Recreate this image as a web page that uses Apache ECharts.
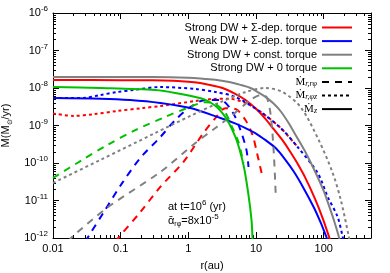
<!DOCTYPE html>
<html><head><meta charset="utf-8">
<script src="https://cdn.jsdelivr.net/npm/echarts@6/dist/echarts.min.js"></script>
<style>html,body{margin:0;padding:0;background:#fff}#c{width:390px;height:273px}</style>
</head><body><div id="c"></div>
<script>
// ---- data (r in au, Mdot in Msun/yr) ----
const xTickLabels = ['0.01', '0.1', '1', '10', '100'];
const groupNames = ['Strong DW + Σ-dep. torque', 'Weak DW + Σ-dep. torque', 'Strong DW + const. torque', 'Strong DW + 0 torque'];
const styleNames = ['Ṁr,rφ', 'Ṁr,φz', 'Ṁz'];

// Strong DW + Sigma-dep torque (red)
const redZ = [[0.01,1.63e-8],[0.1,1.62e-8],[0.3,1.6e-8],[0.6,1.55e-8],[1,1.47e-8],[1.5,1.35e-8],[2,1.22e-8],[3.2,1.0e-8],[5,6.9e-9],[7,4.8e-9],[10,2.8e-9],[13.8,1.5e-9],[18,8.2e-10],[24.7,4.0e-10],[32,2.0e-10],[40,1.04e-10],[54,3.9e-11],[75,1.07e-11],[97,3.3e-12],[120,1.07e-12],[132,6e-13]];
const redRphi = [[0.085,8e-13],[0.0918,1e-12],[0.195,4.9e-12],[0.385,2.3e-11],[0.843,1.06e-10],[1.67,6.3e-10],[2.51,1.58e-9],[3.53,2.9e-9],[4.97,2.75e-9],[6.98,1.4e-9],[8.87,5.6e-10],[10.5,1.63e-10],[12.1,5.4e-11]];
const redRphiz = [[0.01,2.1e-9],[0.02,1.8e-9],[0.04,2.0e-9],[0.0888,2.44e-9],[0.215,2.93e-9],[0.385,3.3e-9],[1.27,4.5e-9],[2.27,5.1e-9],[3.92,5.2e-9],[6.98,4.0e-9],[11.7,2.3e-9],[23.1,8.6e-10],[41.2,2.67e-10]];
// Weak DW + Sigma-dep torque (blue)
const blueZ = [[0.01,5.4e-9],[0.05,5.2e-9],[0.138,4.8e-9],[0.385,4.0e-9],[1.07,2.93e-9],[2.98,1.58e-9],[5,1.12e-9],[7,8.5e-10],[10,6.1e-10],[14,4.0e-10],[19.5,2.5e-10],[26,1.35e-10],[35.9,6e-11],[50,2.2e-11],[71,6.7e-12],[90,2.6e-12],[111,1e-12],[120,7e-13]];
const blueRphi = [[0.03,8e-13],[0.033,1.06e-12],[0.0589,5.6e-12],[0.105,2.9e-11],[0.195,1.36e-10],[0.385,4.9e-10],[0.642,1.4e-9],[1.07,3.1e-9],[1.79,4.8e-9],[2.98,4.8e-9],[4.49,2.3e-9],[5.89,7.6e-10],[7.23,2.2e-10],[7.74,7.8e-11]];
const blueRphiz = [[0.01,5.4e-9],[0.0278,5.4e-9],[0.0497,6.5e-9],[0.0888,7.8e-9],[0.153,8.85e-9],[0.385,1.06e-8],[1.27,9.4e-9],[2.51,7.8e-9],[4.97,5.75e-9],[11.7,2.29e-9],[23.1,8.6e-10],[41.2,2.67e-10],[81.5,5.4e-11],[115,1.24e-11],[161,3.6e-12],[191,1.06e-12],[200,7e-13]];
// Strong DW + const torque (gray)
const grayZ = [[0.01,1.96e-8],[0.3,1.95e-8],[1,1.88e-8],[1.5,1.8e-8],[2.5,1.65e-8],[4.2,1.42e-8],[6,1.2e-8],[8.3,1.0e-8],[11,7.5e-9],[13.8,5.8e-9],[18,3.9e-9],[23.1,2.4e-9],[30,1.2e-9],[39.8,5e-10],[55,1.8e-10],[76,5.5e-11],[100,1.8e-11],[119,7.5e-12],[145,2.6e-12],[167,1.1e-12],[180,6e-13]];
const grayRphi = [[0.017,8e-13],[0.0191,1.06e-12],[0.0653,6.7e-12],[0.385,5.75e-11],[1.27,3.4e-10],[2.51,8.6e-10],[4.49,1.9e-9],[8.29,4.8e-9],[11.7,6.5e-9],[14.3,5.75e-9],[16.4,2.0e-9],[18.2,2.2e-10],[19.5,1.58e-11]];
const grayRphiz = [[0.01,2.93e-11],[0.0497,1.2e-10],[0.324,6.3e-10],[1.07,1.8e-9],[2.98,4.2e-9],[6.98,7.8e-9],[13.8,1.0e-8],[24.7,7.8e-9],[45.6,3.1e-9],[84.3,4.1e-10],[136,5.4e-11],[179,1.03e-11],[234,1.13e-12],[245,7e-13]];
// Strong DW + 0 torque (green)
const greenZ = [[0.01,1.06e-8],[0.05,1.0e-8],[0.324,8.85e-9],[0.642,7.36e-9],[1.79,4.8e-9],[3.19,2.15e-9],[4.97,4.9e-10],[6.53,8.8e-11],[7.74,1.4e-11],[8.58,3e-12],[8.87,1e-12],[8.95,7e-13]];
const greenRphi = [[0.01,4e-11],[0.0269,1.2e-10],[0.063,3.0e-10],[0.164,7.5e-10],[0.456,1.7e-9],[1.0,3.0e-9],[1.79,4.2e-9],[2.51,3.7e-9],[3.53,2.15e-9],[4.49,8.6e-10],[5.51,3.6e-10],[6.53,1.0e-10]];

// ---- styles ----
const colors = ['#ff0000', '#0000ff', '#808080', '#00c000'];
const DASH = [7, 6], DOT = [3, 3];
const FONT = 'Liberation Sans, Arial, sans-serif';

const groups = [
  [redZ, redRphi, redRphiz],
  [blueZ, blueRphi, blueRphiz],
  [grayZ, grayRphi, grayRphiz],
  [greenZ, greenRphi, null]
];
const series = [];
groups.forEach((g, i) => {
  const types = ['solid', DASH, DOT];
  g.forEach((d, j) => {
    if (!d) return;
    series.push({
      type: 'line', name: groupNames[i], data: d, symbol: 'none', showSymbol: false,
      smooth: 0.3, clip: true, silent: true, animation: false,
      lineStyle: { color: colors[i], width: 2, type: types[j] }, itemStyle: { color: colors[i] }
    });
  });
});
[DASH, DOT, 'solid'].forEach((t, k) => {
  series.push({ type: 'line', name: styleNames[k], data: [], symbol: 'none',
    lineStyle: { color: '#000', width: 2, type: t }, itemStyle: { color: '#000' } });
});

const legendSub = { 'Ṁr,rφ': 'r,rφ', 'Ṁr,φz': 'r,φz', 'Ṁz': 'z' };

const axisCommon = {
  type: 'log', logBase: 10,
  axisLine: { show: true, onZero: false, lineStyle: { color: '#000', width: 1 } },
  axisTick: { show: true, inside: true, length: 6, lineStyle: { color: '#000' } },
  splitLine: { show: false }, minorTick: { show: false }, minorSplitLine: { show: false }
};

const chart = echarts.init(document.getElementById('c'), null, { renderer: 'canvas' });
chart.setOption({
  animation: false,
  backgroundColor: '#fff',
  grid: { left: 53, top: 13, right: 19, bottom: 35, containLabel: false, outerBoundsMode: 'none' },
  xAxis: [
    Object.assign({}, axisCommon, {
      min: 0.01, max: 500, position: 'bottom',
      name: 'r(au)', nameLocation: 'middle', nameGap: 22,
      nameTextStyle: { fontFamily: FONT, fontSize: 11, color: '#000' },
      axisLabel: { margin: 5, fontFamily: FONT, fontSize: 11, color: '#000',
        formatter: v => { const e = Math.log10(v); const r = Math.round(e);
          return Math.abs(e - r) < 0.01 ? (xTickLabels[r + 2] || '') : ''; } }
    }),
    Object.assign({}, axisCommon, { min: 0.01, max: 500, position: 'top', axisLabel: { show: false } })
  ],
  yAxis: [
    Object.assign({}, axisCommon, {
      min: 1e-12, max: 1e-6, position: 'left',
      name: '{a|Ṁ(M}{s|⊙}{a|/yr)}', nameLocation: 'middle', nameGap: 27, nameRotate: 90,
      nameTextStyle: { fontFamily: FONT, fontSize: 11, color: '#000',
        rich: { a: { fontFamily: FONT, fontSize: 11, lineHeight: 14, verticalAlign: 'middle' },
                s: { fontFamily: FONT, fontSize: 7, lineHeight: 7, verticalAlign: 'bottom' } } },
      axisLabel: { margin: 5, fontFamily: FONT, fontSize: 11, color: '#000', lineHeight: 16,
        formatter: v => '10{sup|' + Math.round(Math.log10(v)) + '}',
        rich: { sup: { fontFamily: FONT, fontSize: 8, lineHeight: 8, verticalAlign: 'top', color: '#000' } } }
    }),
    Object.assign({}, axisCommon, { min: 1e-12, max: 1e-6, position: 'right', axisLabel: { show: false } })
  ],
  legend: {
    orient: 'vertical', right: 32, top: 17, align: 'right', selectedMode: false,
    itemWidth: 30, itemHeight: 10, itemGap: 2.6,
    itemStyle: { opacity: 0, borderWidth: 0 },
    data: groupNames.concat(styleNames),
    textStyle: { fontFamily: FONT, fontSize: 11, color: '#000', lineHeight: 11,
      rich: { m: { fontFamily: 'Liberation Serif, DejaVu Serif, serif', fontSize: 11, lineHeight: 11, verticalAlign: 'top' },
              s: { fontFamily: 'Liberation Serif, DejaVu Serif, serif', fontStyle: 'italic', fontSize: 8, lineHeight: 8, verticalAlign: 'bottom' } } },
    formatter: n => legendSub[n] ? '{m|Ṁ}{s|' + legendSub[n] + '}' : n
  },
  series: series
});

// minor ticks through the axis scales
const X = v => chart.convertToPixel({ xAxisIndex: 0 }, v);
const Y = v => chart.convertToPixel({ yAxisIndex: 0 }, v);
const gl = X(0.01), gr = X(500), gb = Y(1e-12), gt = Y(1e-6);
const graphics = [];
const tick = (x1, y1, x2, y2) => graphics.push({ type: 'line', silent: true,
  shape: { x1, y1, x2, y2 }, style: { stroke: '#000', lineWidth: 1 } });
for (let d = -2; d <= 2; d++) for (let k = 2; k <= 9; k++) {
  const v = k * Math.pow(10, d); if (v > 500) break;
  const px = Math.round(X(v)) + 0.5;
  tick(px, gb, px, gb - 3); tick(px, gt, px, gt + 3);
}
for (let d = -12; d < -6; d++) for (let k = 2; k <= 9; k++) {
  const py = Math.round(Y(k * Math.pow(10, d))) + 0.5;
  tick(gl, py, gl + 3, py); tick(gr, py, gr - 3, py);
}
graphics.push({ type: 'text', left: 168, top: 199, silent: true,
  style: { text: 'at t=10{sup|6} (yr)', fontFamily: FONT, fontSize: 11, fill: '#000', lineHeight: 15,
    rich: { sup: { fontFamily: FONT, fontSize: 8, lineHeight: 8, verticalAlign: 'top', fill: '#000' } } } });
graphics.push({ type: 'text', left: 168, top: 213, silent: true,
  style: { text: '{a|ᾱ}{sub|rφ}{a|=8x10}{sup|-5}', fontFamily: FONT, fontSize: 11, fill: '#000',
    rich: { a: { fontFamily: FONT, fontSize: 11, lineHeight: 15, verticalAlign: 'middle', fill: '#000' },
            sub: { fontFamily: FONT, fontSize: 7, lineHeight: 7, verticalAlign: 'bottom', fill: '#000' },
            sup: { fontFamily: FONT, fontSize: 8, lineHeight: 8, verticalAlign: 'top', fill: '#000' } } } });
chart.setOption({ graphic: graphics });
</script></body></html>
